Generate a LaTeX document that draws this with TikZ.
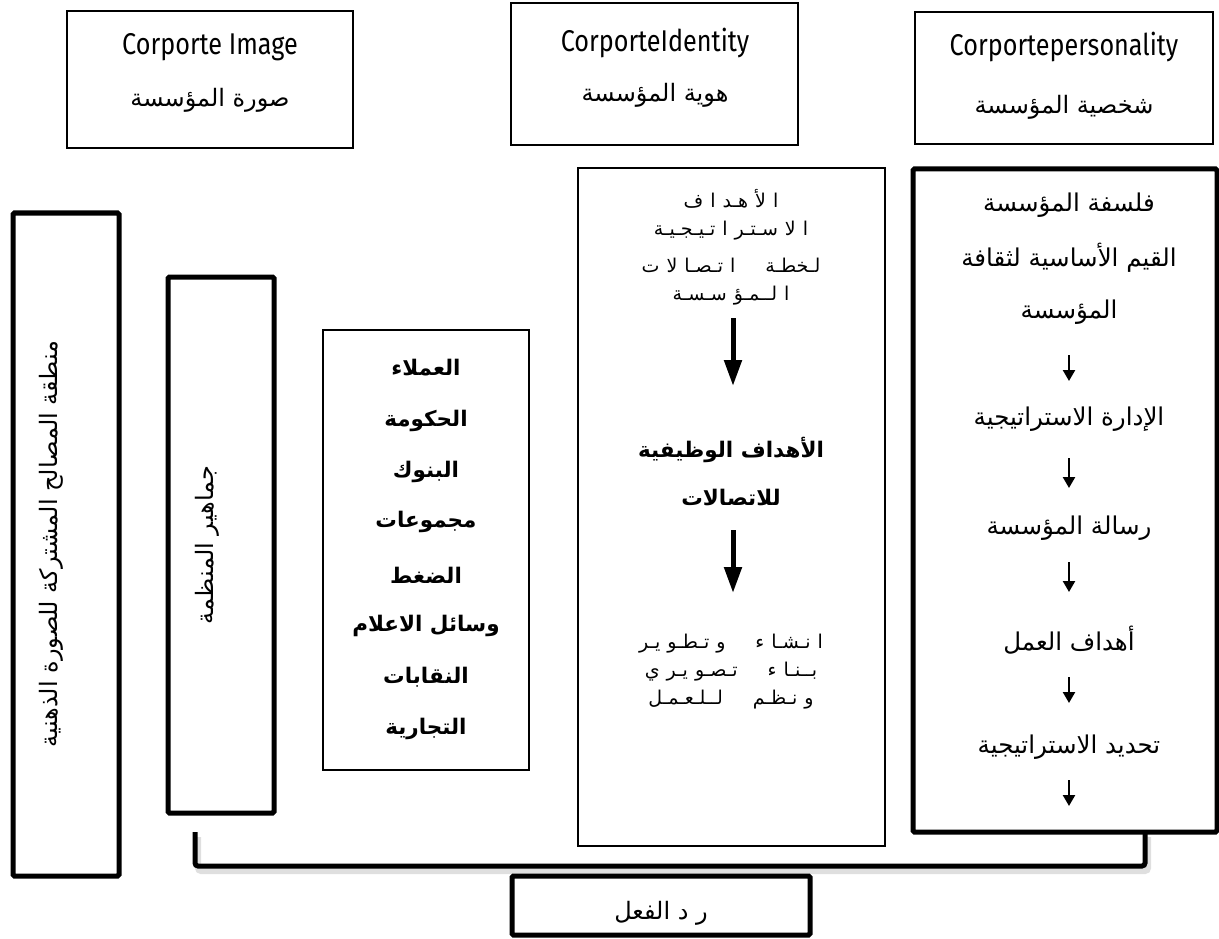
\documentclass[tikz,border=0pt]{standalone}
\usepackage{fontspec}
\setmainfont{Fira Sans}
\newfontfamily\arabicfont[Script=Arabic]{DejaVu Sans}
\newfontfamily\narrowlatin[FakeStretch=0.84]{Fira Sans}
\TeXXeTstate=1
\usetikzlibrary{arrows.meta,calc}
\newcommand\artext[1]{{\arabicfont\beginR #1\endR}}
% gap used at the natural breaks of letter-spaced words
\newcommand\lgap{\hspace{7pt}}
\newcommand\wgap{\hspace{30pt}}

\begin{document}
\begin{tikzpicture}[x=1pt,y=-1pt,
  thinbox/.style={draw, line width=1.4pt, inner sep=0pt},
  thickbox/.style={draw, line width=5pt, rounded corners=1.5pt, inner sep=0pt},
  headlatin/.style={font=\narrowlatin\fontsize{30}{34}\selectfont},
  headarabic/.style={font=\arabicfont\fontsize{24}{28}\selectfont},
  grouptext/.style={font=\arabicfont\bfseries\fontsize{21.5}{25}\selectfont},
  stepline/.style={font=\arabicfont\fontsize{24.5}{28}\selectfont},
  spaced/.style={font=\arabicfont\fontsize{19}{22}\selectfont},
  boldline/.style={font=\arabicfont\bfseries\fontsize{21.5}{25}\selectfont},
  bigarrow/.style={line width=5pt, -{Triangle[width=17pt,length=26pt]}},
  smallarrow/.style={line width=2.4pt, -{Triangle[width=12pt,length=11pt]}}
]
\useasboundingbox (0,0) rectangle (1219,939);

% header boxes
\node[thinbox, minimum width=286pt, minimum height=137pt] (himg) at (210,79.5) {};
\node[headlatin] (himgL) at (210,47) {Corporte Image};
\node[headarabic] (himgA) at (210,100) {\artext{صورة المؤسسة}};

\node[thinbox, minimum width=287pt, minimum height=142pt] (hid) at (654.5,74) {};
\node[headlatin] (hidL) at (655,43) {CorporteIdentity};
\node[headarabic] (hidA) at (655,95) {\artext{هوية المؤسسة}};

\node[thinbox, minimum width=298pt, minimum height=132pt] (hper) at (1064,78) {};
\node[headlatin] (hperL) at (1064,47) {Corportepersonality};
\node[headarabic] (hperA) at (1064,107) {\artext{شخصية المؤسسة}};

% shared-interest column
\node[thickbox, minimum width=106pt, minimum height=663pt] (zone) at (66,544.5) {};
\node[headarabic, rotate=90] (zoneT) at (51,544) {\artext{منطقة المصالح المشتركة للصورة الذهنية}};

% publics column
\node[thickbox, minimum width=106pt, minimum height=536pt] (pub) at (221,545) {};
\node[headarabic, rotate=90] (pubT) at (207,545) {\artext{جماهير المنظمة}};

% list of publics
\node[thinbox, line width=2pt, minimum width=206pt, minimum height=440pt] (grp) at (426,550) {};
\node[grouptext] (g1) at (426,368) {\artext{العملاء}};
\node[grouptext] (g2) at (426,421) {\artext{الحكومة}};
\node[grouptext] (g3) at (426,472) {\artext{البنوك}};
\node[grouptext] (g4) at (426,522) {\artext{مجموعات}};
\node[grouptext] (g5) at (426,575) {\artext{الضغط}};
\node[grouptext] (g6) at (426,626) {\artext{وسائل الاعلام}};
\node[grouptext] (g7) at (426,677) {\artext{النقابات}};
\node[grouptext] (g8) at (426,729) {\artext{التجارية}};

% identity column
\node[thinbox, minimum width=307pt, minimum height=678pt] (idc) at (731.5,507) {};
\node[spaced] (i1) at (731,199) {\artext{ا\lgap لأ\lgap هـد\lgap ا\lgap ف}};
\node[spaced] (i2) at (731,231) {\artext{ا\lgap لا\lgap سـتـر\lgap ا\lgap تـيـجـيـة}};
\node[spaced] (i3) at (731,265) {\artext{لـخطـة\wgap ا\lgap تـصـا\lgap لا\lgap ت}};
\node[spaced] (i4) at (731,296) {\artext{ا\lgap لــمـؤ\lgap سـسـة}};
\node[boldline] (i5) at (731,450) {\artext{الأهداف الوظيفية}};
\node[boldline] (i6) at (731,497) {\artext{للاتصالات}};
\node[spaced] (i7) at (731,644) {\artext{ا\lgap نـشـا\lgap ء\wgap و\lgap تـطـو\lgap يـر}};
\node[spaced] (i8) at (731,672) {\artext{بــنـا\lgap ء\wgap تـصـو\lgap يـر\lgap ي}};
\node[spaced] (i9) at (731,700) {\artext{و\lgap نـظـم\wgap لــلـعـمـل}};
\coordinate (ia1) at (733,318);
\coordinate (ia2) at (733,386);
\coordinate (ib1) at (733,530);
\coordinate (ib2) at (733,593);
\draw[bigarrow] (ia1) -- (ia2);
\draw[bigarrow] (ib1) -- (ib2);

% personality column
\node[thickbox, minimum width=304pt, minimum height=663pt] (pc) at (1065,500.5) {};
\node[stepline] (p1) at (1069,205) {\artext{فلسفة المؤسسة}};
\node[stepline] (p2) at (1069,258) {\artext{القيم الأساسية لثقافة}};
\node[stepline] (p3) at (1069,312) {\artext{المؤسسة}};
\node[stepline] (p4) at (1069,419) {\artext{الإدارة الاستراتيجية}};
\node[stepline] (p5) at (1069,528) {\artext{رسالة المؤسسة}};
\node[stepline] (p6) at (1069,640) {\artext{أهداف العمل}};
\node[stepline] (p7) at (1069,747) {\artext{تحديد الاستراتيجية}};
\coordinate (pa1) at (1069,355);  \coordinate (pa2) at (1069,381);
\coordinate (pb1) at (1069,458);  \coordinate (pb2) at (1069,488);
\coordinate (pc1) at (1069,562);  \coordinate (pc2) at (1069,592);
\coordinate (pd1) at (1069,677);  \coordinate (pd2) at (1069,703);
\coordinate (pe1) at (1069,780);  \coordinate (pe2) at (1069,806);
\draw[smallarrow] (pa1) -- (pa2);
\draw[smallarrow] (pb1) -- (pb2);
\draw[smallarrow] (pc1) -- (pc2);
\draw[smallarrow] (pd1) -- (pd2);
\draw[smallarrow] (pe1) -- (pe2);

% feedback bracket
\coordinate (brL) at (195,832);
\coordinate (brR) at (1145,832);
\draw[line width=6pt, gray!25, rounded corners=3pt] ($(brL)+(3,5)$) -- ++(0,34) -| ($(brR)+(3,5)$);
\draw[line width=5pt, rounded corners=3pt] (brL) -- ++(0,34) -| (brR);

% reaction box
\node[thickbox, minimum width=298pt, minimum height=59pt] (react) at (661,905.5) {};
\node[headarabic] (reactT) at (661,913) {\artext{ر د الفعل}};
\end{tikzpicture}
\end{document}
